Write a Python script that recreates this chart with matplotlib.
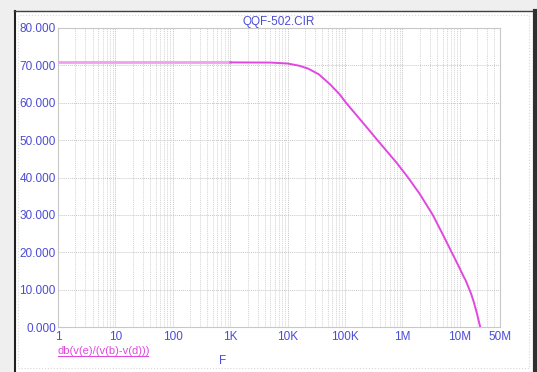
import numpy as np
import matplotlib.pyplot as plt
from matplotlib.patches import Rectangle
from matplotlib.ticker import FixedLocator, NullFormatter

# frequency response
freq = [1, 10, 100, 1e3, 5e3, 1e4, 1.6e4, 2.3e4, 3.5e4, 5.5e4, 8e4, 1.04e5,
        1.5e5, 2.06e5, 3.66e5, 5.5e5, 8.05e5, 1.25e6, 2e6, 3.37e6, 5.3e6,
        7.2e6, 9.5e6, 1.18e7, 1.26e7, 1.57e7, 1.77e7, 2e7, 2.26e7]
db = [70.8, 70.8, 70.8, 70.8, 70.75, 70.5, 69.9, 69.1, 67.6, 64.9, 62.3, 60.0,
      57.1, 54.6, 50.0, 46.8, 43.8, 40.0, 35.6, 30.0, 24.1,
      20.0, 16.3, 13.3, 12.5, 8.9, 6.4, 3.4, 0.0]

xtick_vals = [1, 10, 100, 1e3, 1e4, 1e5, 1e6, 1e7, 5e7]
xtick_labels = ['1', '10', '100', '1K', '10K', '100K', '1M', '10M', '50M']
ytick_vals = [0, 10, 20, 30, 40, 50, 60, 70, 80]
ytick_labels = ['%.3f' % v for v in ytick_vals]

plt.rcParams['font.family'] = ['Liberation Sans', 'DejaVu Sans']
blue = '#4c4cd6'
magenta = '#e048e0'

fig = plt.figure(figsize=(5.37, 3.72), dpi=100)
fig.patch.set_facecolor('#efefef')
W, H = 537, 372

# window frame
fig.patches.append(Rectangle((14 / W, 0), (533 - 14) / W, (H - 11) / H,
                             transform=fig.transFigure, facecolor='white',
                             edgecolor='none', zorder=0))
fig.add_artist(plt.Line2D([14.5 / W, 14.5 / W], [0, (H - 11) / H], transform=fig.transFigure,
                          color='#202020', lw=1.5, zorder=0.5))
fig.add_artist(plt.Line2D([14 / W, 533 / W], [(H - 11) / H, (H - 11) / H], transform=fig.transFigure,
                          color='#404040', lw=1.0, zorder=0.5))
fig.add_artist(plt.Line2D([534.5 / W, 534.5 / W], [0, (H - 11) / H], transform=fig.transFigure,
                          color='#303030', lw=3, zorder=0.5))
fig.add_artist(Rectangle((18 / W, 4 / H), (529 - 18) / W, (H - 15 - 4) / H,
                         transform=fig.transFigure, facecolor='none',
                         edgecolor='#d8d8d8', lw=0.8, ls=':', zorder=0.5))

ax = fig.add_axes([58 / W, 1 - 327 / H, (500 - 58) / W, (327 - 28) / H])
ax.set_zorder(5)
ax.set_facecolor('white')
ax.set_xscale('log')
ax.set_xlim(1, 5e7)
ax.set_ylim(0, 80)

ax.xaxis.set_major_locator(FixedLocator(xtick_vals))
ax.set_xticklabels(xtick_labels)
minors = [m * 10 ** d for d in range(0, 8) for m in range(2, 10) if m * 10 ** d < 5e7]
ax.xaxis.set_minor_locator(FixedLocator(minors))
ax.xaxis.set_minor_formatter(NullFormatter())
ax.set_yticks(ytick_vals)
ax.set_yticklabels(ytick_labels)

ax.tick_params(axis='both', which='both', length=0, labelsize=8.5, labelcolor=blue)
ax.tick_params(axis='x', pad=3)
ax.tick_params(axis='y', pad=1.5)

ax.grid(True, which='major', color='#c8c8c8', lw=0.7, ls=(0, (1, 1)))
ax.grid(True, which='minor', axis='x', color='#d4d4d4', lw=0.7, ls=(0, (1, 1)))
for s in ax.spines.values():
    s.set_color('#c8c8c8')
    s.set_linewidth(0.8)

# light segment up to 1K, stronger after
i = freq.index(1e3)
ax.plot(freq[:i + 1], db[:i + 1], color='#f0a0f0', lw=2.0, zorder=3)
ax.plot(freq[i:], db[i:], color=magenta, lw=1.4, zorder=3, solid_joinstyle='round')

ax.set_title('QQF-502.CIR', fontsize=8.5, color=blue, pad=2)
fig.text(58 / W, 1 - 351 / H, 'db(v(e)/(v(b)-v(d)))', fontsize=8, color=magenta,
         ha='left', va='center', zorder=6)
fig.add_artist(plt.Line2D([58 / W, 148 / W], [1 - 356 / H, 1 - 356 / H],
                          transform=fig.transFigure, color=magenta, lw=0.8, zorder=6))
fig.text(223 / W, 1 - 361 / H, 'F', fontsize=8.5, color=blue, ha='center', va='center', zorder=6)

fig.savefig('out.png', dpi=100, facecolor=fig.get_facecolor())
